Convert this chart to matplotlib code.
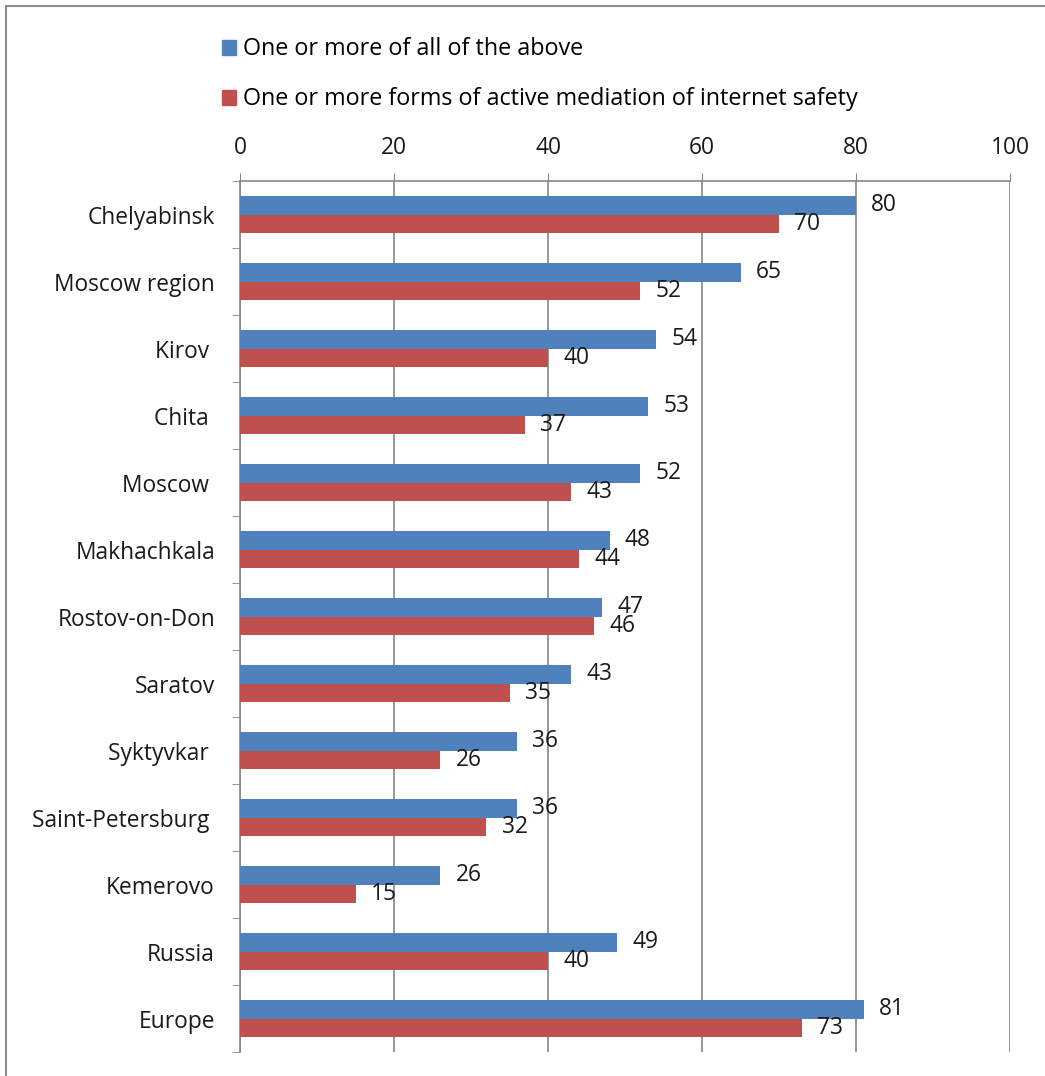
import numpy as np
import matplotlib
matplotlib.use("Agg")
import matplotlib.pyplot as plt
from matplotlib.patches import Rectangle, Patch

plt.rcParams["font.family"] = ["Open Sans", "DejaVu Sans"]

# ── Données ──────────────────────────────────────────────────
cities = ["Chelyabinsk", "Moscow region", "Kirov ", "Chita ", "Moscow ",
          "Makhachkala", "Rostov-on-Don", "Saratov", "Syktyvkar ",
          "Saint-Petersburg ", "Kemerovo", "Russia", "Europe"]
all_above = [80, 65, 54, 53, 52, 48, 47, 43, 36, 36, 26, 49, 81]
active_med = [70, 52, 40, 37, 43, 44, 46, 35, 26, 32, 15, 40, 73]
x_ticks = [0, 20, 40, 60, 80, 100]

COL_BLUE = "#4F81BD"
COL_RED = "#C0504D"
COL_GRID = "#868686"
FS = 16.4

fig = plt.figure(figsize=(10.45, 10.76), dpi=100)
ax = fig.add_axes([240/1045, 1 - 1052/1076, 770/1045, (1052 - 181)/1076])

y = np.arange(len(cities))
h = 0.28
b1 = ax.barh(y - h/2, all_above, h, color=COL_BLUE, zorder=3)
b2 = ax.barh(y + h/2, active_med, h, color=COL_RED, zorder=3)
ax.bar_label(b1, padding=11, fontsize=FS, color="#1a1a1a")
ax.bar_label(b2, padding=11, fontsize=FS, color="#1a1a1a")

ax.set_xlim(0, 100)
ax.set_ylim(len(cities) - 0.5, -0.5)
ax.xaxis.tick_top()
ax.set_xticks(x_ticks)
ax.tick_params(axis="x", direction="out", length=6, color=COL_GRID,
               labelsize=FS, pad=9, labelcolor="#1a1a1a")
ax.set_yticks(y)
ax.set_yticklabels(cities)
ax.tick_params(axis="y", length=0, labelsize=FS, pad=18, labelcolor="#1a1a1a")
ax.set_yticks(np.arange(-0.5, len(cities)), minor=True)
ax.tick_params(axis="y", which="minor", direction="out", length=6, color=COL_GRID)

ax.xaxis.grid(True, color=COL_GRID, linewidth=1.2, zorder=0)
ax.set_axisbelow(True)
for s in ["right", "bottom"]:
    ax.spines[s].set_visible(False)
for s in ["top", "left"]:
    ax.spines[s].set_color(COL_GRID)
    ax.spines[s].set_linewidth(1.2)

# ── Légende ──────────────────────────────────────────────────
handles = [Patch(color=COL_BLUE), Patch(color=COL_RED)]
fig.legend(handles, ["One or more of all of the above",
                     "One or more forms of active mediation of internet safety"],
           loc="upper left", bbox_to_anchor=(213/1045, 1 - 28/1076),
           frameon=False, fontsize=16.8, handlelength=0.6, handleheight=0.6,
           handletextpad=0.3, labelspacing=1.12, borderaxespad=0)

# cadre gris
fig.patches.append(Rectangle((6/1045, -0.1), 1.2, 1.1 - 6/1076,
                             transform=fig.transFigure, fill=False,
                             edgecolor="#8c8c8c", linewidth=1.5))

fig.savefig("out.png", dpi=100, facecolor="white")
